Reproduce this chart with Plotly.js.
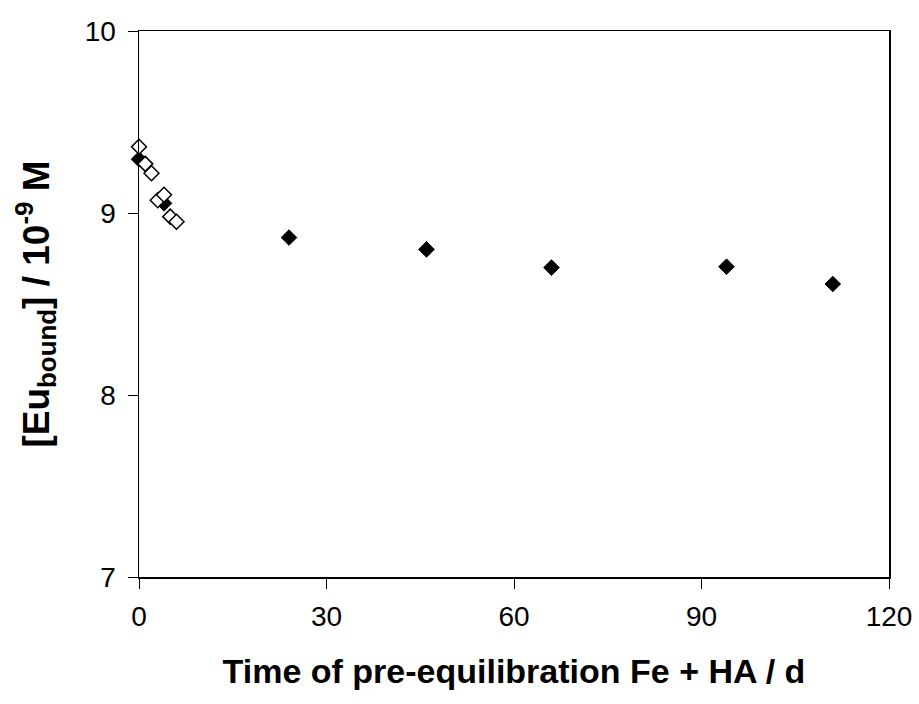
<!DOCTYPE html>
<html>
<head>
<meta charset="utf-8">
<script src="https://cdn.plot.ly/plotly-3.0.1.min.js"></script>
<style>html,body{margin:0;padding:0;background:#fff;}#chart{width:919px;height:704px;}</style>
</head>
<body>
<div id="chart"></div>
<script>
// Filled diamonds
const filledDays = [0, 4, 24, 46, 66, 94, 111];
const filledEu = [9.295, 9.053, 8.865, 8.80, 8.70, 8.705, 8.61];
// Open diamonds
const openDays = [0, 1, 2, 3, 4, 5, 6];
const openEu = [9.364, 9.27, 9.218, 9.07, 9.10, 8.98, 8.952];
const xTicks = [0, 30, 60, 90, 120];
const yTicks = [7, 8, 9, 10];

const traces = [
  {
    x: filledDays, y: filledEu, type: 'scatter', mode: 'markers', cliponaxis: false,
    marker: {symbol: 'diamond', size: 12, color: '#000000', line: {color: '#000000', width: 1}},
    showlegend: false
  },
  {
    x: openDays, y: openEu, type: 'scatter', mode: 'markers', cliponaxis: false,
    marker: {symbol: 'diamond', size: 11.5, color: '#ffffff', line: {color: '#000000', width: 1.5}},
    showlegend: false
  }
];

const layout = {
  width: 919, height: 704,
  margin: {l: 139, r: 30, t: 31, b: 127},
  paper_bgcolor: '#ffffff', plot_bgcolor: '#ffffff',
  font: {family: 'Liberation Sans, Arial, sans-serif', color: '#000000', size: 28},
  xaxis: {
    range: [0, 120], tickvals: xTicks, ticktext: xTicks.map(String),
    showgrid: false, zeroline: false,
    showline: true, linecolor: '#000000', linewidth: 1.5, mirror: true,
    ticks: 'outside', ticklen: 10, tickwidth: 1, tickcolor: '#000000',
    ticklabelstandoff: 4,
    tickfont: {family: 'Liberation Sans, Arial, sans-serif', size: 28, color: '#000000'},
    title: {text: 'Time of pre-equilibration Fe + HA / d', font: {family: 'Liberation Sans, Arial, sans-serif', size: 34, weight: 'bold', color: '#000000'}, standoff: 28}
  },
  yaxis: {
    range: [7, 10], tickvals: yTicks, ticktext: yTicks.map(String),
    showgrid: false, zeroline: false,
    showline: true, linecolor: '#000000', linewidth: 1.5, mirror: true,
    ticks: 'outside', ticklen: 10, tickwidth: 1, tickcolor: '#000000',
    ticklabelstandoff: 6,
    tickfont: {family: 'Liberation Sans, Arial, sans-serif', size: 28, color: '#000000'},
    title: {text: '[Eu<sub>bound</sub>] / 10<sup>-9</sup> M', font: {family: 'Liberation Sans, Arial, sans-serif', size: 37, weight: 'bold', color: '#000000'}, standoff: 24}
  }
};

Plotly.newPlot('chart', traces, layout, {displayModeBar: false, staticPlot: true});
</script>
</body>
</html>
